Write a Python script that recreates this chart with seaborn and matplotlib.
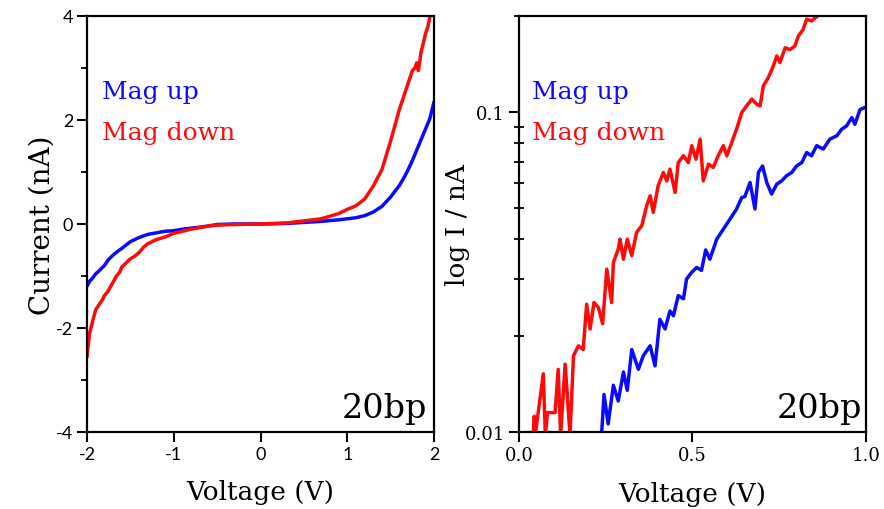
import seaborn as sns
import matplotlib.pyplot as plt
from matplotlib.ticker import MultipleLocator, FixedLocator, FixedFormatter, LogLocator, NullFormatter


# I-V sweep (left panel)
iv_v_up = [-2.0, -1.97, -1.94, -1.9, -1.86, -1.8, -1.75, -1.7, -1.65, -1.6, -1.5, -1.4, -1.3,
           -1.2, -1.1, -1.0, -0.9, -0.8, -0.7, -0.6, -0.5, -0.3, 0.0, 0.3, 0.5, 0.7, 0.9, 1.0,
           1.1, 1.2, 1.3, 1.4, 1.5, 1.6, 1.65, 1.7, 1.75, 1.8, 1.85, 1.9, 1.95, 2.0]
iv_i_up = [-1.2, -1.1, -1.05, -0.96, -0.9, -0.8, -0.68, -0.6, -0.53, -0.47, -0.34, -0.26, -0.2,
           -0.17, -0.14, -0.13, -0.1, -0.08, -0.06, -0.04, -0.01, 0.0, 0.0, 0.01, 0.03, 0.05, 0.08, 0.1,
           0.12, 0.16, 0.23, 0.34, 0.52, 0.74, 0.88, 1.04, 1.22, 1.42, 1.62, 1.82, 2.02, 2.35]

iv_v_down = [-2.0, -1.99, -1.97, -1.94, -1.9, -1.86, -1.82, -1.8, -1.76, -1.72, -1.7, -1.66, -1.62,
             -1.6, -1.55, -1.5, -1.45, -1.4, -1.35, -1.3, -1.2, -1.1, -1.0, -0.9, -0.8, -0.7, -0.6,
             -0.5, -0.3, 0.0, 0.3, 0.5, 0.7, 0.8, 0.9, 1.0, 1.1, 1.2, 1.3, 1.4, 1.5, 1.55, 1.6,
             1.65, 1.7, 1.75, 1.78, 1.8, 1.82, 1.85, 1.88, 1.9, 1.93, 1.96]
iv_i_down = [-2.56, -2.4, -2.1, -1.9, -1.65, -1.55, -1.45, -1.38, -1.3, -1.18, -1.12, -1.0, -0.92,
             -0.83, -0.75, -0.67, -0.62, -0.55, -0.45, -0.38, -0.3, -0.25, -0.18, -0.14, -0.1, -0.07, -0.04,
             -0.02, -0.01, 0.0, 0.02, 0.06, 0.1, 0.15, 0.2, 0.28, 0.35, 0.48, 0.73, 1.05, 1.6, 1.9, 2.2,
             2.45, 2.7, 2.95, 3.0, 3.1, 2.95, 3.3, 3.5, 3.65, 3.8, 4.05]

# forward bias on log scale (right panel)
log_v_up = [0.238, 0.245, 0.257, 0.272, 0.286, 0.301, 0.312, 0.325, 0.344, 0.358, 0.378, 0.392,
            0.406, 0.421, 0.435, 0.445, 0.459, 0.474, 0.483, 0.498, 0.512, 0.526, 0.538, 0.550,
            0.570, 0.589, 0.608, 0.627, 0.642, 0.651, 0.666, 0.680, 0.690, 0.702, 0.714, 0.728,
            0.743, 0.757, 0.771, 0.786, 0.800, 0.815, 0.829, 0.843, 0.858, 0.877, 0.896, 0.916,
            0.930, 0.944, 0.959, 0.968, 0.983, 0.997]
log_i_up = [0.0098, 0.0131, 0.0106, 0.0140, 0.0125, 0.0154, 0.0135, 0.0181, 0.0157, 0.0173, 0.0186, 0.0161,
            0.0225, 0.0210, 0.0239, 0.0231, 0.0267, 0.0261, 0.0301, 0.0316, 0.0327, 0.0320, 0.0371, 0.0347,
            0.0401, 0.0431, 0.0463, 0.0498, 0.0541, 0.0545, 0.0603, 0.0498, 0.0648, 0.0679, 0.0603, 0.0555,
            0.0596, 0.0610, 0.0633, 0.0648, 0.0679, 0.0696, 0.0748, 0.0731, 0.0786, 0.0767, 0.0824, 0.0844,
            0.0885, 0.0906, 0.0962, 0.0917, 0.1020, 0.1035]

log_v_down = [0.041, 0.044, 0.047, 0.070, 0.076, 0.082, 0.104, 0.113, 0.120, 0.133, 0.147, 0.157,
              0.171, 0.185, 0.195, 0.205, 0.216, 0.229, 0.241, 0.253, 0.267, 0.272, 0.286, 0.291,
              0.301, 0.312, 0.325, 0.339, 0.354, 0.368, 0.378, 0.387, 0.401, 0.416, 0.426, 0.435,
              0.450, 0.459, 0.474, 0.488, 0.498, 0.510, 0.522, 0.531, 0.546, 0.560, 0.574, 0.589,
              0.599, 0.613, 0.627, 0.642, 0.656, 0.671, 0.685, 0.695, 0.704, 0.718, 0.733, 0.743,
              0.752, 0.767, 0.781, 0.795, 0.805, 0.819, 0.829, 0.843, 0.863]
log_i_down = [0.0098, 0.0112, 0.0098, 0.0152, 0.0098, 0.0115, 0.0115, 0.0157, 0.0098, 0.0163, 0.0098, 0.0173,
              0.0186, 0.0181, 0.0251, 0.0210, 0.0254, 0.0245, 0.0218, 0.0323, 0.0254, 0.0339, 0.0373, 0.0401,
              0.0347, 0.0401, 0.0356, 0.0421, 0.0442, 0.0510, 0.0548, 0.0486, 0.0589, 0.0648, 0.0610, 0.0664,
              0.0561, 0.0696, 0.0731, 0.0696, 0.0786, 0.0713, 0.0824, 0.0610, 0.0688, 0.0672, 0.0731, 0.0786,
              0.0731, 0.0804, 0.0885, 0.0998, 0.1047, 0.1099, 0.1060, 0.1047, 0.1208, 0.1280, 0.1395, 0.1500,
              0.1430, 0.1590, 0.1570, 0.1610, 0.1730, 0.1815, 0.1954, 0.1930, 0.2010]

BLUE = "#0a0aff"
RED = "#ff0a0a"

sns.set_style("ticks")
plt.rcParams["font.family"] = ["DejaVu Serif"]
plt.rcParams["axes.unicode_minus"] = False
plt.rcParams["text.color"] = "black"
plt.rcParams["axes.labelcolor"] = "black"

fig = plt.figure(figsize=(8.84, 5.10), dpi=100)
ax1 = fig.add_axes([0.0984, 0.151, 0.3926, 0.8157])
ax2 = fig.add_axes([0.5871, 0.151, 0.3925, 0.8157])

# left: linear I-V
sns.lineplot(x=iv_v_up, y=iv_i_up, ax=ax1, color=BLUE, lw=2.5, estimator=None, sort=False)
sns.lineplot(x=iv_v_down, y=iv_i_down, ax=ax1, color=RED, lw=2.5, estimator=None, sort=False)
ax1.set_xlim(-2, 2)
ax1.set_ylim(-4, 4)
ax1.set_xticks([-2, -1, 0, 1, 2])
ax1.set_yticks([-4, -2, 0, 2, 4])
ax1.yaxis.set_minor_locator(MultipleLocator(1))
for lab in ax1.get_xticklabels() + ax1.get_yticklabels():
    lab.set_family("Lato")
ax1.set_xlabel("Voltage (V)", fontsize=19, labelpad=12)
ax1.set_ylabel("Current (nA)", fontsize=20, labelpad=0)
ax1.text(0.043, 0.803, "Mag up", color=BLUE, fontsize=18, va="baseline", transform=ax1.transAxes)
ax1.text(0.043, 0.704, "Mag down", color=RED, fontsize=18, va="baseline", transform=ax1.transAxes)
ax1.text(0.98, 0.035, "20bp", fontsize=24, ha="right", va="baseline", transform=ax1.transAxes)

# right: log scale, forward bias
sns.lineplot(x=log_v_up, y=log_i_up, ax=ax2, color=BLUE, lw=2.5, estimator=None, sort=False)
sns.lineplot(x=log_v_down, y=log_i_down, ax=ax2, color=RED, lw=2.5, estimator=None, sort=False)
ax2.set_yscale("log")
ax2.set_xlim(0, 1)
ax2.set_ylim(0.01, 0.2)
ax2.set_xticks([0.0, 0.5, 1.0])
ax2.set_xticklabels(["0.0", "0.5", "1.0"])
ax2.yaxis.set_major_locator(FixedLocator([0.01, 0.1]))
ax2.yaxis.set_major_formatter(FixedFormatter(["0.01", "0.1"]))
ax2.yaxis.set_minor_locator(LogLocator(base=10, subs=range(2, 10)))
ax2.yaxis.set_minor_formatter(NullFormatter())
ax2.set_xlabel("Voltage (V)", fontsize=19, labelpad=12)
ax2.set_ylabel("log I / nA", fontsize=19, labelpad=-4)
ax2.text(0.037, 0.803, "Mag up", color=BLUE, fontsize=18, va="baseline", transform=ax2.transAxes)
ax2.text(0.037, 0.704, "Mag down", color=RED, fontsize=18, va="baseline", transform=ax2.transAxes)
ax2.text(0.988, 0.035, "20bp", fontsize=24, ha="right", va="baseline", transform=ax2.transAxes)

for ax in (ax1, ax2):
    for s in ax.spines.values():
        s.set_linewidth(1.6)
        s.set_color("black")
    ax.tick_params(which="major", direction="out", length=7, width=1.5, labelsize=13, pad=3,
                   colors="black")
    ax.tick_params(which="minor", length=4, width=1.3, colors="black")
    ax.tick_params(axis="x", which="minor", length=0)
ax2.tick_params(axis="y", which="minor", direction="inout", length=7)

fig.savefig("out.png", dpi=100)
